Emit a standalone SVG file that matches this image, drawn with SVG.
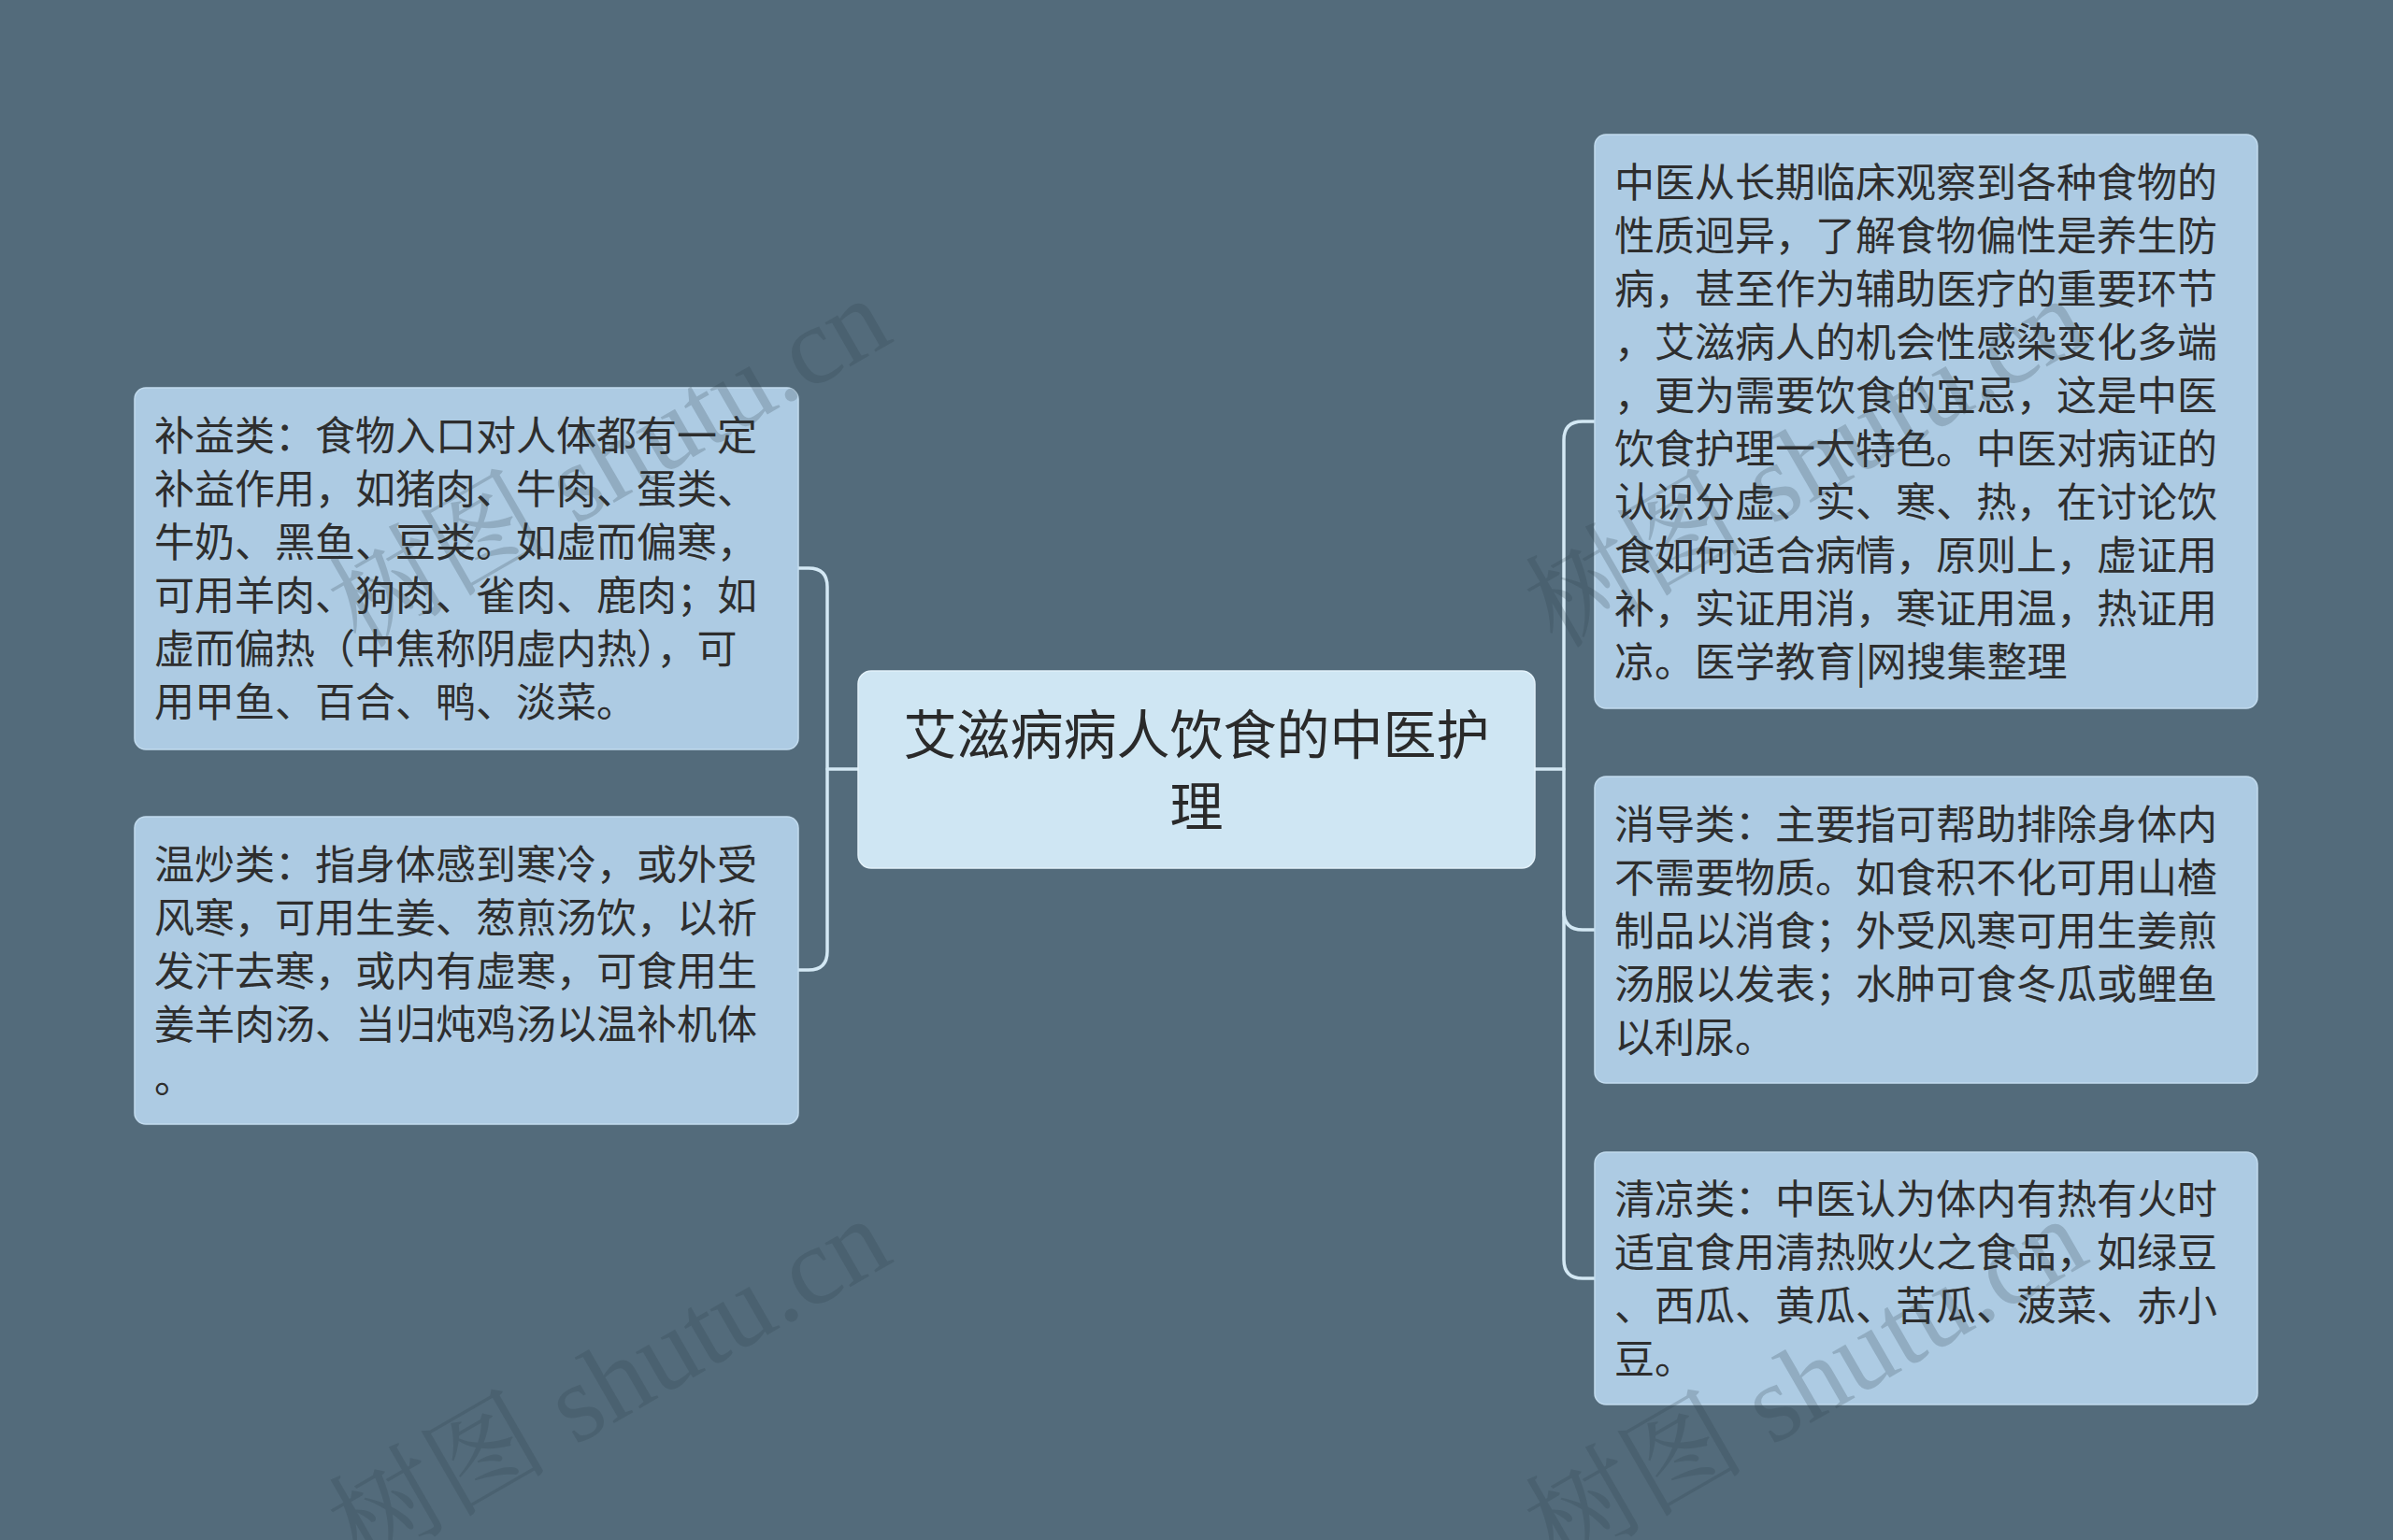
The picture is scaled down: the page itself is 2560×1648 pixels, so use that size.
<svg xmlns="http://www.w3.org/2000/svg" width="2560" height="1648" viewBox="0 0 2560 1648">
<style>
.bg{fill:#536b7b}
.node{fill:#adcbe3;stroke:#c2dbee;stroke-width:1.5}
.root{fill:#cfe6f3;stroke:#e2f1fa;stroke-width:1.5}
.t{font-family:"Noto Sans CJK SC","Noto Sans",sans-serif;font-size:43px;fill:#2e2e2e}
.rt{font-family:"Noto Sans CJK SC","Noto Sans",sans-serif;font-size:57px;fill:#2a2a2a;text-anchor:middle}
.conn{fill:none;stroke:#d3e8f4;stroke-width:3.5;stroke-linecap:round;stroke-linejoin:round}
.wm{font-family:"Liberation Serif","Noto Serif CJK SC","Noto Sans CJK SC",serif;font-size:118px;fill:#2f3f4a;fill-opacity:0.22}
</style>
<rect class="bg" x="0" y="0" width="2560" height="1648"/>
<g id="connectors">
<path class="conn" d="M918 823 H885"/>
<path class="conn" d="M854 608 H865 Q885 608 885 628 V1018 Q885 1038 865 1038 H854"/>
<path class="conn" d="M1642 823 H1673"/>
<path class="conn" d="M1706 451 H1693 Q1673 451 1673 471 V1348 Q1673 1368 1693 1368 H1706"/>
<path class="conn" d="M1673 975 Q1673 995 1693 995 H1706"/>
</g>
<g id="root">
<rect class="root" x="918" y="718" width="724" height="211" rx="14"/>
<text class="rt"><tspan x="1280" y="807">艾滋病病人饮食的中医护</tspan><tspan x="1280" y="884">理</tspan></text>
</g>
<g id="node-buyi">
<rect class="node" x="144" y="415" width="710" height="387" rx="12"/>
<text class="t"><tspan x="165" y="482">补益类：食物入口对人体都有一定</tspan><tspan x="165" y="539">补益作用，如猪肉、牛肉、蛋类、</tspan><tspan x="165" y="596">牛奶、黑鱼、豆类。如虚而偏寒，</tspan><tspan x="165" y="653">可用羊肉、狗肉、雀肉、鹿肉；如</tspan><tspan x="165" y="710">虚而偏热（中焦称阴虚内热），可</tspan><tspan x="165" y="767">用甲鱼、百合、鸭、淡菜。</tspan></text>
</g>
<g id="node-wenchao">
<rect class="node" x="144" y="874" width="710" height="329" rx="12"/>
<text class="t"><tspan x="165" y="941">温炒类：指身体感到寒冷，或外受</tspan><tspan x="165" y="998">风寒，可用生姜、葱煎汤饮，以祈</tspan><tspan x="165" y="1055">发汗去寒，或内有虚寒，可食用生</tspan><tspan x="165" y="1112">姜羊肉汤、当归炖鸡汤以温补机体</tspan><tspan x="165" y="1169">。</tspan></text>
</g>
<g id="node-intro">
<rect class="node" x="1706" y="144" width="709" height="614" rx="12"/>
<text class="t"><tspan x="1727" y="211">中医从长期临床观察到各种食物的</tspan><tspan x="1727" y="268">性质迥异，了解食物偏性是养生防</tspan><tspan x="1727" y="325">病，甚至作为辅助医疗的重要环节</tspan><tspan x="1727" y="382">，艾滋病人的机会性感染变化多端</tspan><tspan x="1727" y="439">，更为需要饮食的宜忌，这是中医</tspan><tspan x="1727" y="496">饮食护理一大特色。中医对病证的</tspan><tspan x="1727" y="553">认识分虚、实、寒、热，在讨论饮</tspan><tspan x="1727" y="610">食如何适合病情，原则上，虚证用</tspan><tspan x="1727" y="667">补，实证用消，寒证用温，热证用</tspan><tspan x="1727" y="724">凉。医学教育|网搜集整理</tspan></text>
</g>
<g id="node-xiaodao">
<rect class="node" x="1706" y="831" width="709" height="328" rx="12"/>
<text class="t"><tspan x="1727" y="898">消导类：主要指可帮助排除身体内</tspan><tspan x="1727" y="955">不需要物质。如食积不化可用山楂</tspan><tspan x="1727" y="1012">制品以消食；外受风寒可用生姜煎</tspan><tspan x="1727" y="1069">汤服以发表；水肿可食冬瓜或鲤鱼</tspan><tspan x="1727" y="1126">以利尿。</tspan></text>
</g>
<g id="node-qingliang">
<rect class="node" x="1706" y="1233" width="709" height="270" rx="12"/>
<text class="t"><tspan x="1727" y="1299">清凉类：中医认为体内有热有火时</tspan><tspan x="1727" y="1356">适宜食用清热败火之食品，如绿豆</tspan><tspan x="1727" y="1413">、西瓜、黄瓜、苦瓜、菠菜、赤小</tspan><tspan x="1727" y="1470">豆。</tspan></text>
</g>
<g id="watermarks">
<text class="wm" transform="translate(385 695) rotate(-30)">树图 shutu.cn</text>
<text class="wm" transform="translate(385 1680) rotate(-30)">树图 shutu.cn</text>
<text class="wm" transform="translate(1665 695) rotate(-30)">树图 shutu.cn</text>
<text class="wm" transform="translate(1665 1680) rotate(-30)">树图 shutu.cn</text>
</g>
</svg>
